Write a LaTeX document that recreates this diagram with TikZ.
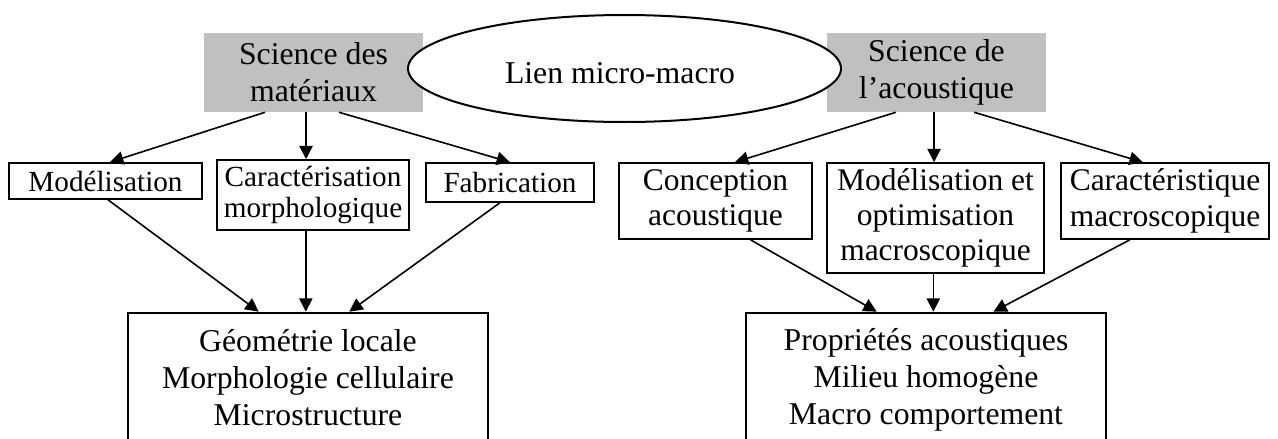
\documentclass[tikz,border=0pt]{standalone}
\usepackage{fontspec}
\setmainfont{Liberation Serif}
\usetikzlibrary{shapes.geometric,arrows.meta,calc}
\definecolor{boxgray}{RGB}{192,192,192}
\begin{document}
\begin{tikzpicture}[x=0.75pt,y=-0.75pt,
  sz/.style 2 args={minimum width={#1*0.75pt},minimum height={#2*0.75pt}},
  big/.style={font=\fontsize{23.8}{27.75}\selectfont},
  small/.style={font=\fontsize{21.9}{23.25}\selectfont},
  mid/.style={font=\fontsize{23.6}{26.5}\selectfont},
  title/.style={fill=boxgray, draw=none, inner sep=0pt, align=center, big},
  lvl/.style={draw, line width=1.25pt, inner sep=0pt, align=center},
  res/.style={draw, line width=2pt, inner sep=0pt, align=center, big},
  arr/.style={line width=1.2pt, -{Triangle[length=10pt,width=10pt]}}
]
\clip (0,0) rectangle (1278,439);
\useasboundingbox (0,0) rectangle (1278,439);

% top titles
\node[title, sz={219}{79}] (g1) at (313.5,72.5) {Science des\\matériaux};
\node[title, sz={219}{79}] (g2) at (936.5,72.5) {Science de\\l’acoustique};
\node[ellipse, draw, fill=white, line width=1.5pt, sz={433}{107}, inner sep=0pt] (e) at (624.5,68.5) {};
\node[big, anchor=base, inner sep=0pt] (et) at (620,83) {Lien micro-macro};

% second level
\node[lvl, small, sz={193}{36}] (mod) at (105.5,181) {Modélisation};
\node[lvl, small, sz={192}{70}] (car) at (313,195) {Caractérisation\\morphologique};
\node[lvl, small, sz={168}{39}] (fab) at (510,182.5) {Fabrication};
\node[lvl, mid, sz={193}{76}] (con) at (715.5,201) {Conception\\acoustique};
\node[lvl, mid, sz={217}{110}] (met) at (935.5,218) {Modélisation et\\optimisation\\macroscopique};
\node[lvl, mid, sz={208}{76}] (cst) at (1165,201) {Caractéristique\\macroscopique};

% results
\node[res, sz={360}{130}] (b1) at (308,378) {Géométrie locale\\Morphologie cellulaire\\Microstructure};
\node[res, sz={360}{134}] (b2) at (926,380) {Propriétés acoustiques\\Milieu homogène\\Macro comportement};

% helper coordinates
\coordinate (v1) at ($(g1.south west)!0.466!(g1.south east)$);
\coordinate (v2) at ($(b1.north west)!0.494!(b1.north east)$);
\coordinate (v3) at ($(g2.south west)!0.489!(g2.south east)$);
\coordinate (v4) at ($(met.south west)!0.49!(met.south east)$);

% left arrows
\draw[arr] ($(g1.south west)!0.279!(g1.south east)$) -- ($(mod.north west)!0.523!(mod.north east)$);
\draw[arr] (v1) -- (v1 |- car.north);
\draw[arr] ($(g1.south west)!0.616!(g1.south east)$) -- ($(fab.north west)!0.5!(fab.north east)$);
\draw[arr] ($(mod.south west)!0.513!(mod.south east)$) -- ($(b1.north west)!0.364!(b1.north east)$);
\draw[arr] (v2 |- car.south) -- (v2);
\draw[arr] ($(fab.south west)!0.44!(fab.south east)$) -- ($(b1.north west)!0.614!(b1.north east)$);

% right arrows
\draw[arr] ($(g2.south west)!0.315!(g2.south east)$) -- ($(con.north west)!0.60!(con.north east)$);
\draw[arr] (v3) -- (v3 |- met.north);
\draw[arr] ($(g2.south west)!0.671!(g2.south east)$) -- ($(cst.north west)!0.394!(cst.north east)$);
\draw[arr] ($(con.south west)!0.68!(con.south east)$) -- ($(b2.north west)!0.364!(b2.north east)$);
\draw[arr] (v4) -- (v4 |- b2.north);
\draw[arr] ($(cst.south west)!0.332!(cst.south east)$) -- ($(b2.north west)!0.686!(b2.north east)$);
\end{tikzpicture}
\end{document}
